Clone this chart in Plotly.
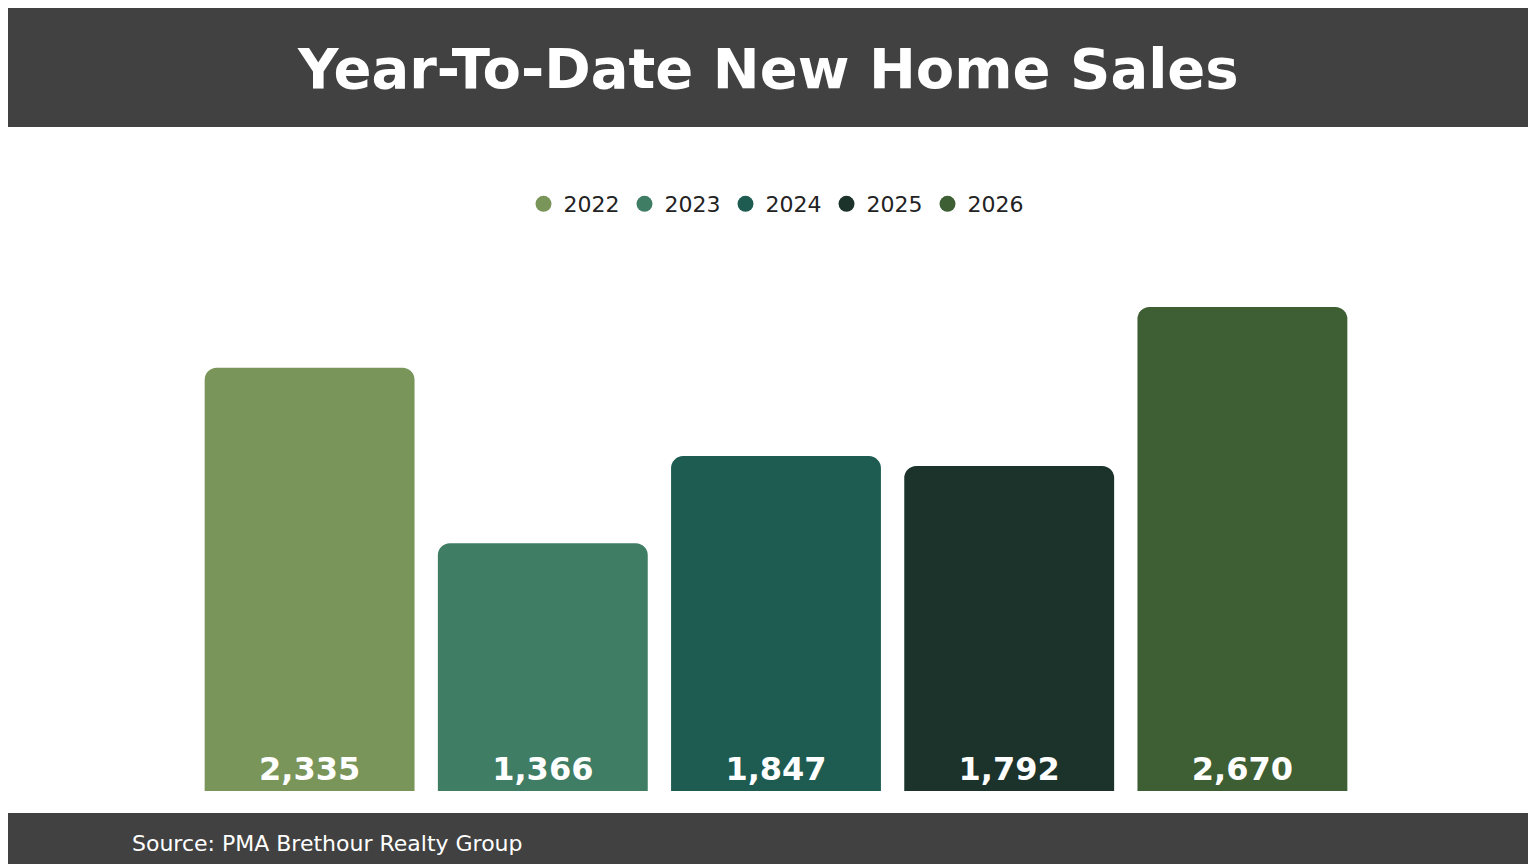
import plotly.graph_objects as go

years = ["2022", "2023", "2024", "2025", "2026"]
sales = [2335, 1366, 1847, 1792, 2670]
colors = ["#7a9559", "#3f7d64", "#1e5c52", "#1b332b", "#3e5e34"]

W, H = 1536, 864
top, bottom = 230, 81

fig = go.Figure()
fig.add_trace(go.Bar(
    x=years, y=sales,
    marker=dict(color=colors, cornerradius=12, line=dict(width=0)),
    text=[f"{v:,}" for v in sales],
    textposition="inside", insidetextanchor="start",
    textfont=dict(family="DejaVu Sans", size=32, color="white", weight="bold"),
    showlegend=False, hoverinfo="skip",
))
for yr, c in zip(years, colors):
    fig.add_trace(go.Scatter(
        x=[None], y=[None], mode="markers", name=yr,
        marker=dict(symbol="circle", size=22, color=c),
    ))

fig.update_layout(
    width=W, height=H,
    margin=dict(l=185, r=185, t=top, b=bottom),
    paper_bgcolor="white", plot_bgcolor="white",
    bargap=0.1,
    xaxis=dict(visible=False),
    yaxis=dict(visible=False, range=[0, 3050]),
    legend=dict(orientation="h", x=0.5, xanchor="center", y=1 + (top - 196) / (H - top - bottom),
                yanchor="middle", font=dict(family="DejaVu Sans", size=22, color="#222222"),
                itemwidth=30, tracegroupgap=0),
    shapes=[
        dict(type="rect", xref="paper", yref="paper", x0=-1, x1=2,
             y0=1 + (top - 119) / (H - top - bottom), y1=3, fillcolor="#414141", line_width=0, layer="below"),
        dict(type="rect", xref="paper", yref="paper", x0=-1, x1=2,
             y0=-3, y1=-(bottom - 59) / (H - top - bottom), fillcolor="#414141", line_width=0, layer="below"),
    ],
    annotations=[
        dict(text="<b>Year-To-Date New Home Sales</b>", xref="paper", yref="paper",
             x=(760 - 185) / (W - 370), y=1 + (top - 60) / (H - top - bottom),
             showarrow=False, xanchor="center", yanchor="middle",
             font=dict(family="DejaVu Sans", size=56, color="white")),
        dict(text="Source: PMA Brethour Realty Group", xref="paper", yref="paper",
             x=(122 - 185) / (W - 370), y=-(bottom - 29) / (H - top - bottom),
             showarrow=False, xanchor="left", yanchor="middle",
             font=dict(family="DejaVu Sans", size=22, color="white")),
    ],
)

fig.write_html("out.html")
